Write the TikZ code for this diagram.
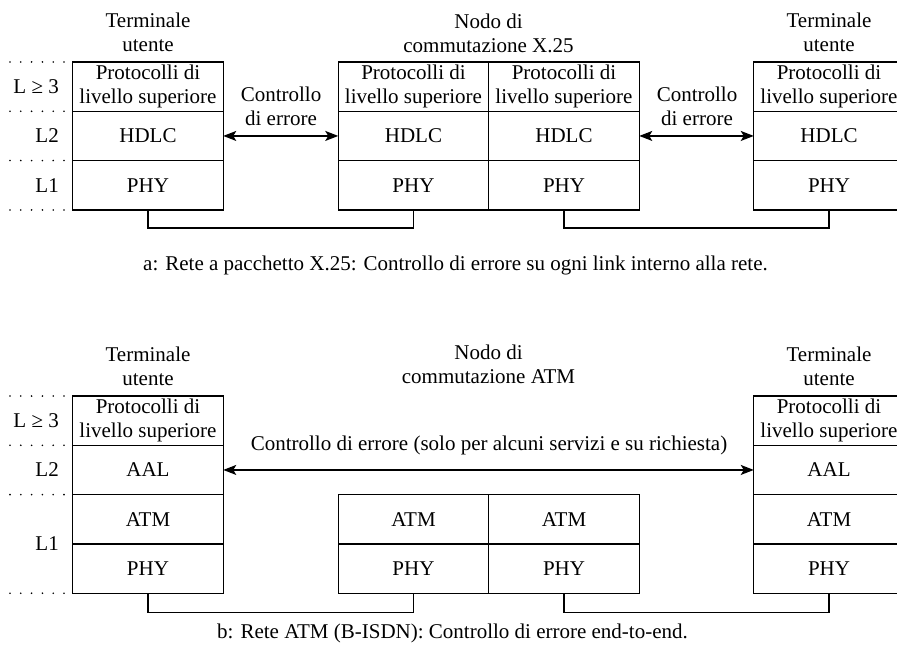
\documentclass[tikz,border=0pt]{standalone}
\usepackage{fontspec}
\setmainfont{Liberation Serif}
\usepackage{tikz}
\usetikzlibrary{arrows.meta, positioning, calc}
\tikzset{every node/.append style={align=center, font=\fontsize{21}{24}\selectfont}}
\tikzset{
  cell/.style={rectangle, draw, line width=1.4pt, minimum width=150.5pt, minimum height=49.3pt,
    inner sep=0pt, outer sep=0pt, text centered, align=center},
  head/.style={inner sep=0pt, align=center},
  lvl/.style={inner sep=0pt, anchor=east},
  dots/.style={line width=1.8pt, line cap=round, dash pattern=on 0pt off 10.8pt},
  arrow/.style={<->, >={Stealth[length=13pt, width=10pt, inset=3pt]}, line width=1.4pt},
  link/.style={line width=1.4pt},
  capt/.style={inner sep=0pt, anchor=west}
}

\begin{document}
\begin{tikzpicture}[x=1pt, y=-1pt, node distance=0pt]
  \useasboundingbox (0,0) rectangle (897,655);
  \clip (0,0) rectangle (897,655);
  % a: rete X.25
  \node[cell] (a1) at (148,86.65) {Protocolli di\\livello superiore};
  \node[cell, below=of a1] (a2) {HDLC};
  \node[cell, below=of a2] (a3) {PHY};
  \node[cell] (b1) at (413.5,86.65) {Protocolli di\\livello superiore};
  \node[cell, below=of b1] (b2) {HDLC};
  \node[cell, below=of b2] (b3) {PHY};
  \node[cell, right=of b1] (c1) {Protocolli di\\livello superiore};
  \node[cell, below=of c1] (c2) {HDLC};
  \node[cell, below=of c2] (c3) {PHY};
  \node[cell] (d1) at (829,86.65) {Protocolli di\\livello superiore};
  \node[cell, below=of d1] (d2) {HDLC};
  \node[cell, below=of d2] (d3) {PHY};
  \node[head] (ta) at (148,32) {Terminale\\utente};
  \node[head] (na) at (488.5,33) {Nodo di\\commutazione X.25};
  \node[head] (ua) at (829,32) {Terminale\\utente};
  \node[lvl] (la3) at (59,86.65) {L ≥ 3};
  \node[lvl] (la2) at (59,136) {L2};
  \node[lvl] (la1) at (59,185.3) {L1};
  \draw[dots] (10,62) -- (66,62);
  \draw[dots] (10,111.3) -- (66,111.3);
  \draw[dots] (10,160.6) -- (66,160.6);
  \draw[dots] (10,210) -- (66,210);
  \draw[arrow] (a2) -- (b2);
  \draw[arrow] (c2) -- (d2);
  \node[head] (ea) at (281,106) {Controllo\\di errore};
  \node[head] (eb) at (697,106) {Controllo\\di errore};
  \draw[link] (a3.south) -- ++(0,18) -| (b3.south);
  \draw[link] (c3.south) -- ++(0,18) -| (d3.south);
  \node[capt] (capa) at (143,265) {a: Rete a pacchetto X.25: Controllo di errore su ogni link interno alla rete.};
  % b: rete ATM
  \node[cell] (e1) at (148,420.65) {Protocolli di\\livello superiore};
  \node[cell, below=of e1] (e2) {AAL};
  \node[cell, below=of e2] (e3) {ATM};
  \node[cell, below=of e3] (e4) {PHY};
  \node[cell] (f1) at (413.5,519.25) {ATM};
  \node[cell, below=of f1] (f2) {PHY};
  \node[cell, right=of f1] (g1) {ATM};
  \node[cell, below=of g1] (g2) {PHY};
  \node[cell] (h1) at (829,420.65) {Protocolli di\\livello superiore};
  \node[cell, below=of h1] (h2) {AAL};
  \node[cell, below=of h2] (h3) {ATM};
  \node[cell, below=of h3] (h4) {PHY};
  \node[head] (tb) at (148,366.5) {Terminale\\utente};
  \node[head] (nb) at (488.5,364.5) {Nodo di\\commutazione ATM};
  \node[head] (ub) at (829,366.5) {Terminale\\utente};
  \node[lvl] (lb3) at (59,420.65) {L ≥ 3};
  \node[lvl] (lb2) at (59,470) {L2};
  \node[lvl] (lb1) at (59,544) {L1};
  \draw[dots] (10,396) -- (66,396);
  \draw[dots] (10,445.3) -- (66,445.3);
  \draw[dots] (10,494.6) -- (66,494.6);
  \draw[dots] (10,593.2) -- (66,593.2);
  \draw[arrow] (e2) -- (h2);
  \node[head] (ec) at (489,445) {Controllo di errore (solo per alcuni servizi e su richiesta)};
  \draw[link] (e4.south) -- ++(0,19) -| (f2.south);
  \draw[link] (g2.south) -- ++(0,19) -| (h4.south);
  \node[capt] (capb) at (217,633) {b: Rete ATM (B-ISDN): Controllo di errore end-to-end.};
\end{tikzpicture}
\end{document}
